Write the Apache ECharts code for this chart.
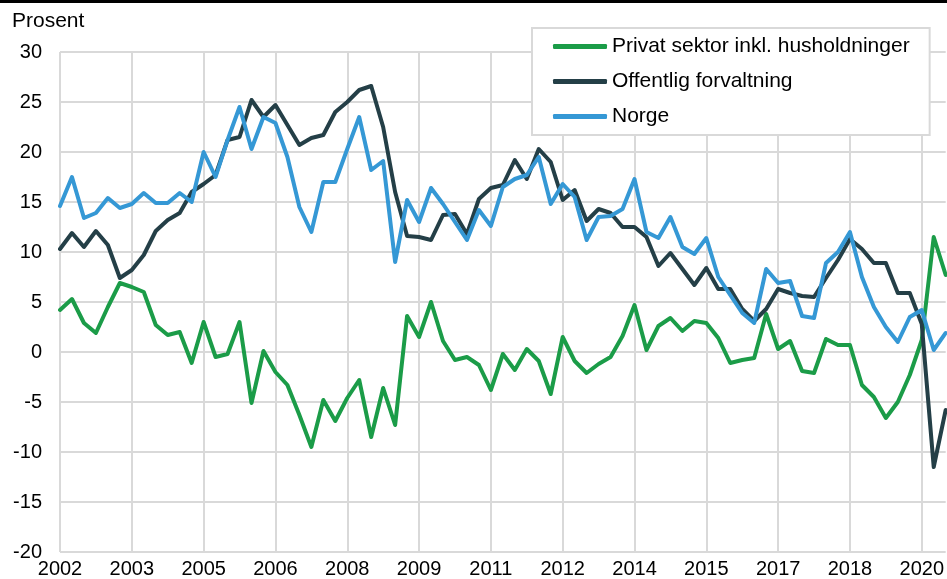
<!DOCTYPE html>
<html>
<head>
<meta charset="utf-8">
<script src="https://cdn.jsdelivr.net/npm/echarts@6/dist/echarts.min.js"></script>
<style>
html,body{margin:0;padding:0;background:#fff;}
#chart{width:947px;height:579px;}
</style>
</head>
<body>
<div id="chart"></div>
<script>
var categories = [
"2002K1","2002K2","2002K3","2002K4","2003K1","2003K2","2003K3","2003K4",
"2004K1","2004K2","2004K3","2004K4","2005K1","2005K2","2005K3","2005K4",
"2006K1","2006K2","2006K3","2006K4","2007K1","2007K2","2007K3","2007K4",
"2008K1","2008K2","2008K3","2008K4","2009K1","2009K2","2009K3","2009K4",
"2010K1","2010K2","2010K3","2010K4","2011K1","2011K2","2011K3","2011K4",
"2012K1","2012K2","2012K3","2012K4","2013K1","2013K2","2013K3","2013K4",
"2014K1","2014K2","2014K3","2014K4","2015K1","2015K2","2015K3","2015K4",
"2016K1","2016K2","2016K3","2016K4","2017K1","2017K2","2017K3","2017K4",
"2018K1","2018K2","2018K3","2018K4","2019K1","2019K2","2019K3","2019K4",
"2020K1","2020K2","2020K3"
];

var privat = [
4.2,5.3,2.9,1.9,4.5,6.9,6.5,6.0,2.7,1.7,2.0,-1.1,3.0,-0.5,-0.2,3.0,
-5.1,0.1,-2.0,-3.3,-6.3,-9.5,-4.8,-6.9,-4.6,-2.8,-8.5,-3.6,-7.3,3.6,1.5,5.0,
1.1,-0.8,-0.5,-1.3,-3.8,-0.2,-1.8,0.3,-0.9,-4.2,1.5,-0.9,-2.1,-1.2,-0.5,1.6,
4.7,0.2,2.6,3.4,2.1,3.1,2.9,1.4,-1.1,-0.8,-0.6,3.8,0.3,1.1,-1.9,-2.1,
1.3,0.7,0.7,-3.3,-4.5,-6.6,-5.0,-2.3,1.2,11.5,7.7
];

var offentlig = [
10.3,11.9,10.5,12.1,10.7,7.4,8.2,9.7,12.1,13.2,13.9,16.0,16.8,17.7,21.2,21.5,
25.2,23.5,24.7,22.7,20.7,21.4,21.7,24.0,25.0,26.2,26.6,22.5,16.0,11.6,11.5,11.2,
13.7,13.8,11.8,15.3,16.4,16.7,19.2,17.3,20.3,19.0,15.2,16.2,13.1,14.3,13.9,12.5,
12.5,11.5,8.6,9.9,8.3,6.7,8.4,6.3,6.3,4.3,3.1,4.3,6.3,5.9,5.6,5.5,
7.4,9.2,11.3,10.3,8.9,8.9,5.9,5.9,2.8,-11.5,-5.8
];

var norge = [
14.6,17.5,13.4,13.9,15.4,14.4,14.8,15.9,14.9,14.9,15.9,15.0,20.0,17.5,21.2,24.5,
20.3,23.5,22.9,19.5,14.5,12.0,17.0,17.0,20.3,23.5,18.2,19.1,9.0,15.2,13.0,16.4,
14.8,13.0,11.2,14.2,12.6,16.5,17.3,17.7,19.5,14.8,16.8,15.5,11.2,13.5,13.6,14.3,
17.3,12.0,11.4,13.5,10.5,9.8,11.4,7.5,5.7,3.9,2.9,8.3,6.9,7.1,3.6,3.4,
8.9,10.0,12.0,7.5,4.5,2.5,1.0,3.5,4.2,0.2,1.9
];

var seriesNames = ["Privat sektor inkl. husholdninger","Offentlig forvaltning","Norge"];
var colors = ["#1b9c48","#243f47","#3598d5"];
var yTitle = "Prosent";

var font = "'Liberation Sans', Arial, sans-serif";
var chart = echarts.init(document.getElementById('chart'), null, {renderer:'canvas'});

function mk(name, data, color){
  return {
    name: name, type: 'line', data: data, symbol: 'none', smooth: false,
    lineStyle: {width: 4, color: color, join: 'round', cap: 'round'},
    itemStyle: {color: color},
    emphasis: {disabled: true},
    animation: false
  };
}

chart.setOption({
  animation: false,
  backgroundColor: '#fff',
  title: {
    text: yTitle, left: 12, top: 11, padding: 0,
    textStyle: {fontFamily: font, fontSize: 21, fontWeight: 'normal', color: '#000'}
  },
  graphic: [{
    type: 'rect', left: 0, top: 0, shape: {width: 947, height: 3},
    style: {fill: '#000'}, z: 100
  }],
  legend: {
    orient: 'vertical', left: 532, top: 28,
    padding: [8, 20, 8, 21], itemGap: 14,
    backgroundColor: '#fff', borderColor: '#d9d9d9', borderWidth: 2,
    icon: 'roundRect', itemWidth: 54, itemHeight: 5,
    textStyle: {fontFamily: font, fontSize: 21, color: '#000', lineHeight: 20},
    data: seriesNames,
    z: 10
  },
  grid: {left: 60, right: 0, top: 52, bottom: 27, containLabel: false},
  xAxis: {
    type: 'category', data: categories, boundaryGap: false,
    axisLine: {show: false},
    axisTick: {show: false},
    axisLabel: {
      interval: 5, margin: 7, color: '#000', fontFamily: font, fontSize: 20,
      formatter: function(v){ return v.slice(0,4); }
    },
    splitLine: {show: true, interval: 5, lineStyle: {color: '#d9d9d9', width: 2}}
  },
  yAxis: {
    type: 'value', min: -20, max: 30, interval: 5,
    axisLine: {show: false}, axisTick: {show: false},
    axisLabel: {margin: 18, color: '#000', fontFamily: font, fontSize: 20},
    splitLine: {show: true, lineStyle: {color: '#d9d9d9', width: 2}}
  },
  series: [
    mk(seriesNames[0], privat, colors[0]),
    mk(seriesNames[1], offentlig, colors[1]),
    mk(seriesNames[2], norge, colors[2])
  ]
});
</script>
</body>
</html>
